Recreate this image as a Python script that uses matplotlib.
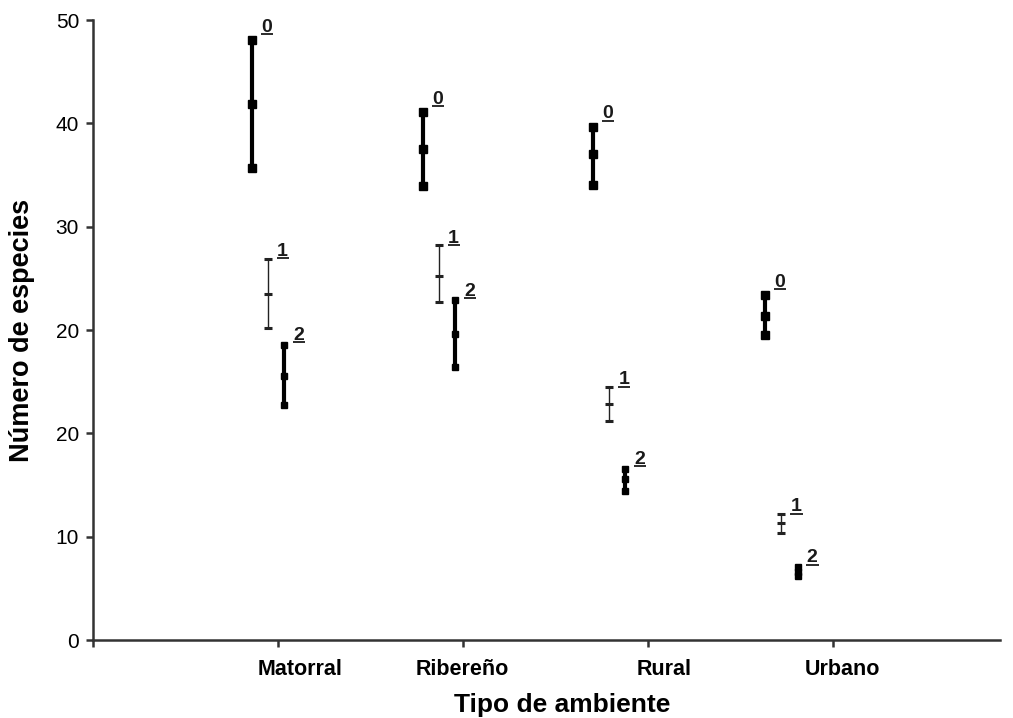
import matplotlib
matplotlib.use("Agg")
import matplotlib.pyplot as plt
from matplotlib.transforms import offset_copy

# ---------------------------------------------------------------------------
# Data (y values in axis units; the axis shows the original's tick labels)
# ---------------------------------------------------------------------------
categories = ["Matorral", "Ribereño", "Rural", "Urbano"]
series_names = ["0", "1", "2"]

hi_0 = [58.1, 51.1, 49.7, 33.4]
mid_0 = [51.9, 47.5, 47.0, 31.4]
lo_0 = [45.7, 43.9, 44.0, 29.5]

hi_1 = [36.9, 38.2, 24.5, 12.2]
mid_1 = [33.5, 35.2, 22.8, 11.3]
lo_1 = [30.2, 32.7, 21.2, 10.4]

hi_2 = [28.6, 32.9, 16.6, 7.1]
mid_2 = [25.6, 29.6, 15.6, 6.6]
lo_2 = [22.7, 26.4, 14.4, 6.2]

ytick_labels = ["0", "10", "20", "20", "30", "40", "50"]

# ---------------------------------------------------------------------------
# Layout
# ---------------------------------------------------------------------------
group_x = [0.946, 1.870, 2.789, 3.719]
offsets = [-0.087, 0.0, 0.087]
label_x = [1.12, 1.995, 3.086, 4.05]
# vertical offset (points) of each series' underlined label above the bar top
label_dy = [4.3, 0.2, 1.5]

DARK = "#1a1a1a"
AXIS = "#333333"
FONT = "Liberation Sans"

fig = plt.figure(figsize=(10.13, 7.18), dpi=100)
ax = fig.add_axes([0.0918, 0.1086, 0.8954, 0.8634])

styles = [
    dict(lw=3.0, marker="s", ms=6.0, color="black"),
    dict(lw=1.0, marker="_", ms=6.0, mew=2.2, color="#222222"),
    dict(lw=3.0, marker="s", ms=4.8, color="black"),
]
series = [(lo_0, mid_0, hi_0), (lo_1, mid_1, hi_1), (lo_2, mid_2, hi_2)]

for s, (lo, mid, hi) in enumerate(series):
    for i in range(len(categories)):
        x = group_x[i] + offsets[s]
        ax.plot([x, x, x], [lo[i], mid[i], hi[i]], **styles[s],
                solid_capstyle="butt", zorder=3)
        # underlined series label next to the top of each bar
        tr = offset_copy(ax.transData, fig=fig, x=6.5, y=label_dy[s] + 1.6,
                         units="points")
        ax.text(x, hi[i], series_names[s], transform=tr,
                fontsize=14, fontweight="bold", family=FONT,
                ha="left", va="baseline", color=DARK)
        tr_line = offset_copy(ax.transData, fig=fig, x=0, y=label_dy[s],
                              units="points")
        ax.plot([x + 0.047, x + 0.114], [hi[i], hi[i]], transform=tr_line,
                color=DARK, lw=1.3, solid_capstyle="butt")

# ---------------------------------------------------------------------------
# Axes styling
# ---------------------------------------------------------------------------
ax.set_xlim(0, 4.9)
ax.set_ylim(0, 60)
ax.set_yticks(range(0, 61, 10))
ax.set_yticklabels(ytick_labels, fontsize=15, family=FONT)
ax.set_xticks([0, 1, 2, 3, 4])
ax.set_xticklabels([])
ax.set_xticks(label_x, minor=True)
ax.set_xticklabels(categories, minor=True, fontsize=15.5, fontweight="bold",
                   family=FONT)
ax.tick_params(axis="x", which="minor", length=0, pad=14)
ax.tick_params(axis="both", which="major", length=5, width=1.8,
               color=AXIS, direction="out")
ax.tick_params(axis="y", pad=5)

for side in ["top", "right"]:
    ax.spines[side].set_visible(False)
for side in ["left", "bottom"]:
    ax.spines[side].set_color(AXIS)
    ax.spines[side].set_linewidth(1.8)

ax.set_ylabel("Número de especies", fontsize=19.5, fontweight="bold",
              family=FONT, labelpad=15)
ax.set_xlabel("Tipo de ambiente", fontsize=19, fontweight="bold",
              family=FONT, labelpad=8)
ax.xaxis.set_label_coords(0.517, -0.085)

fig.savefig("out.png", dpi=100, facecolor="white")
